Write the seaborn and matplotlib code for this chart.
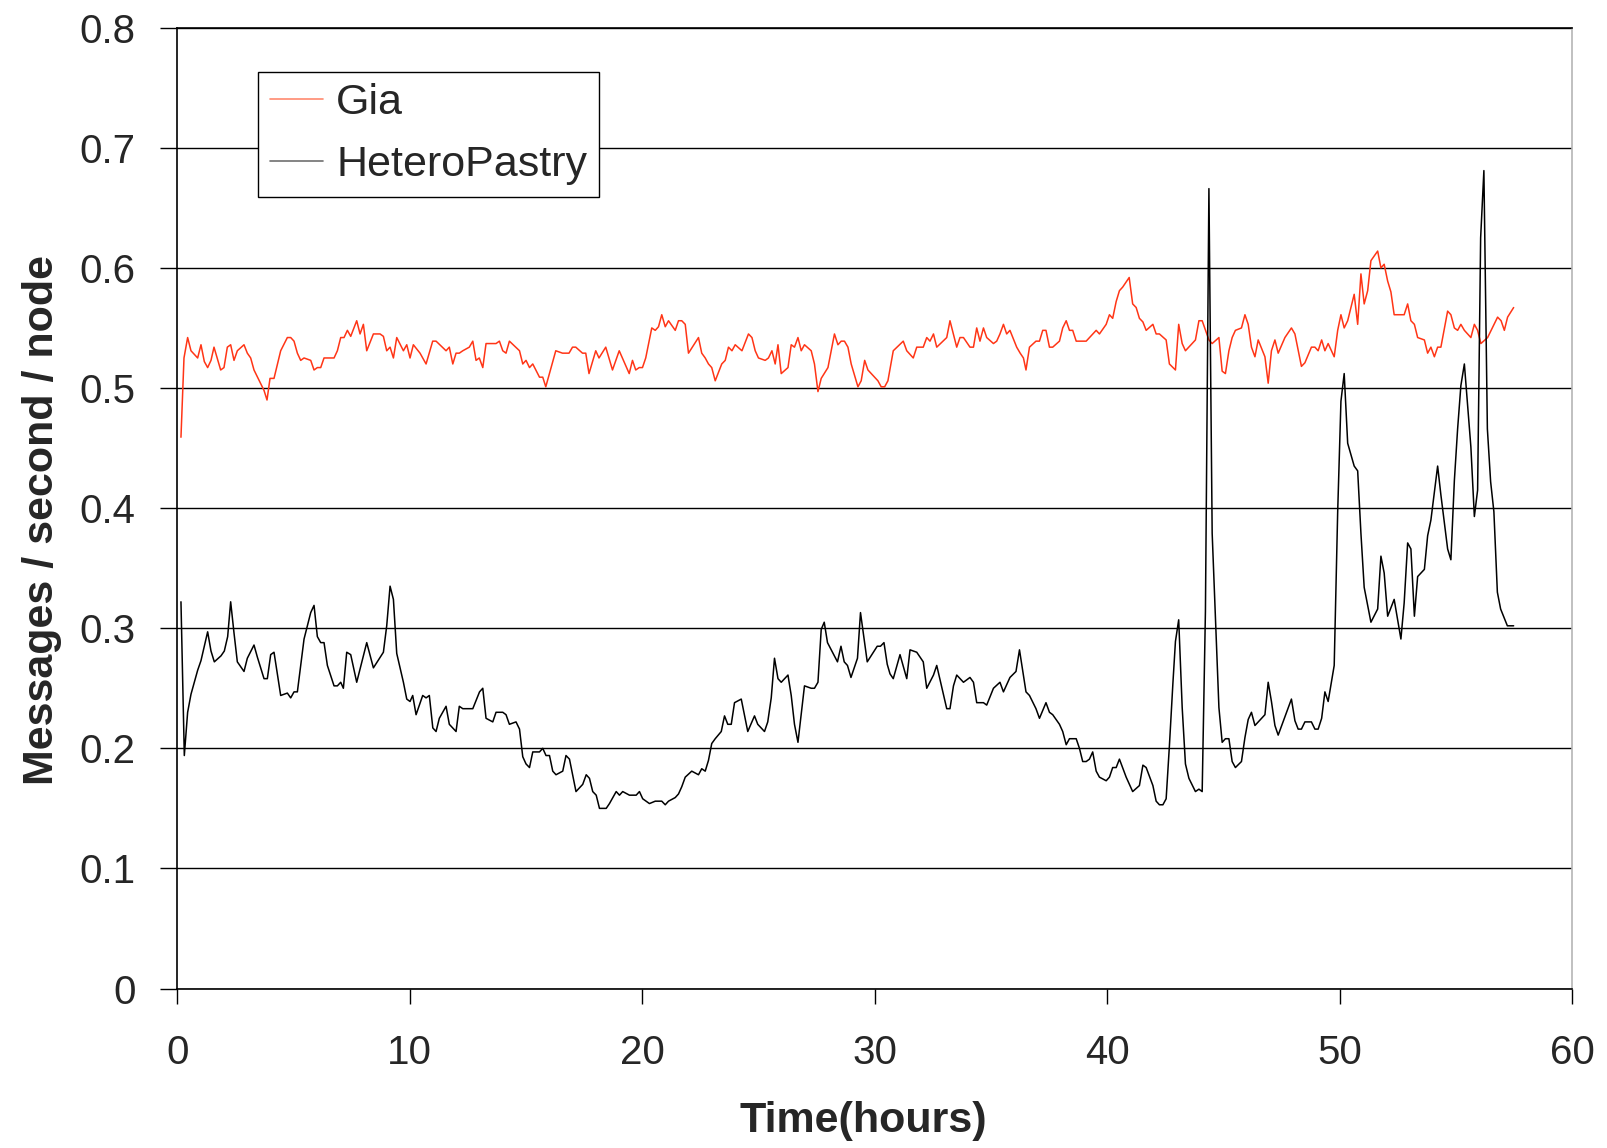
import matplotlib
matplotlib.use("Agg")
import matplotlib.pyplot as plt
import seaborn as sns
import pandas as pd

# ---------------- data ----------------
gia_hours = [
    0.155, 0.285, 0.442, 0.586, 0.873, 1.016, 1.16, 1.303, 1.447, 1.576, 1.863, 2.006, 2.15, 2.293, 2.437,
    2.58, 2.867, 3.01, 3.154, 3.297, 3.728, 3.857, 3.986, 4.158, 4.445, 4.732, 4.876, 5.019, 5.163, 5.306,
    5.45, 5.737, 5.88, 6.023, 6.167, 6.31, 6.741, 6.884, 7.028, 7.171, 7.315, 7.458, 7.716, 7.86, 8.003,
    8.147, 8.434, 8.72, 8.864, 9.007, 9.151, 9.295, 9.438, 9.725, 9.869,
    10.01, 10.153, 10.44, 10.70, 10.985, 11.13, 11.56, 11.70, 11.85, 11.99, 12.13, 12.28, 12.56, 12.71,
    12.85, 12.99, 13.14, 13.28, 13.71, 13.855, 14.0, 14.14, 14.285, 14.72, 14.86, 15.0, 15.15, 15.29,
    15.58, 15.72, 15.85, 16.28, 16.57, 16.85, 17.0, 17.14, 17.43, 17.57, 17.71, 18.0, 18.14, 18.43, 18.72,
    19.01, 19.44, 19.58, 19.72, 19.87, 20.01, 20.15,
    20.41, 20.56, 20.70, 20.84, 20.99, 21.13, 21.42, 21.56, 21.70, 21.85, 21.99, 22.42, 22.56, 22.71,
    22.85, 22.99, 23.14, 23.42, 23.57, 23.71, 23.86, 24.0, 24.29, 24.57, 24.72, 24.86, 25.0, 25.29, 25.43,
    25.58, 25.72, 25.84, 25.98, 26.27, 26.41, 26.55, 26.70, 26.84, 26.98, 27.27, 27.41, 27.56, 27.70,
    27.99, 28.27, 28.42, 28.56, 28.70, 28.85, 28.99, 29.28, 29.42, 29.57, 29.71, 30.14, 30.28, 30.43, 30.57,
    30.80, 31.23, 31.38, 31.66, 31.81, 32.09, 32.24, 32.38, 32.53, 32.67, 33.10, 33.24, 33.53, 33.67, 33.82,
    34.10, 34.25, 34.39, 34.53, 34.68, 34.82, 35.11, 35.25, 35.39, 35.54, 35.68, 35.82, 36.11, 36.26, 36.40,
    36.51, 36.66, 36.94, 37.09, 37.23, 37.37, 37.52, 37.66, 37.95, 38.09, 38.24, 38.38, 38.52, 38.67, 39.10,
    39.53, 39.67, 39.96, 40.10, 40.24, 40.39, 40.53, 40.67, 40.95,
    41.10, 41.25, 41.39, 41.54, 41.68, 41.97, 42.11, 42.25, 42.54, 42.68, 42.94, 43.08, 43.23, 43.37, 43.80,
    43.95, 44.09, 44.38, 44.52, 44.81, 44.95, 45.09, 45.24, 45.38, 45.52, 45.78, 45.93, 46.07, 46.21, 46.36,
    46.50, 46.79, 46.93, 47.07, 47.22, 47.36, 47.65, 47.93, 48.08, 48.36, 48.51, 48.79, 48.94, 49.08, 49.23,
    49.37, 49.51,
    49.77, 49.92, 50.06, 50.20, 50.35, 50.63, 50.78, 50.92, 51.06, 51.21, 51.35, 51.64, 51.78, 51.92, 52.07,
    52.21, 52.35, 52.78, 52.93, 53.07, 53.22, 53.36, 53.65, 53.79, 53.93, 54.08, 54.22, 54.36, 54.65, 54.79,
    54.94, 55.08, 55.22, 55.37, 55.65, 55.80, 55.94, 56.08, 56.37, 56.80, 56.95, 57.09, 57.23, 57.49,
]
gia_values = [
    0.459, 0.525, 0.542, 0.531, 0.525, 0.536, 0.522, 0.517, 0.523, 0.534, 0.515, 0.517, 0.534, 0.536, 0.523,
    0.531, 0.536, 0.529, 0.525, 0.515, 0.498, 0.490, 0.508, 0.508, 0.531, 0.542, 0.542, 0.539, 0.529, 0.523,
    0.525, 0.523, 0.515, 0.517, 0.517, 0.525, 0.525, 0.531, 0.542, 0.542, 0.548, 0.543, 0.556, 0.545, 0.553,
    0.531, 0.545, 0.545, 0.543, 0.531, 0.534, 0.525, 0.542, 0.531, 0.536,
    0.525, 0.536, 0.529, 0.520, 0.539, 0.539, 0.531, 0.534, 0.520, 0.529, 0.529, 0.531, 0.534, 0.539,
    0.523, 0.525, 0.517, 0.537, 0.537, 0.539, 0.531, 0.529, 0.539, 0.531, 0.520, 0.523, 0.517, 0.520,
    0.509, 0.509, 0.501, 0.531, 0.529, 0.529, 0.534, 0.534, 0.529, 0.529, 0.512, 0.531, 0.525, 0.534, 0.515,
    0.531, 0.512, 0.523, 0.515, 0.517, 0.517, 0.525,
    0.550, 0.548, 0.551, 0.561, 0.551, 0.556, 0.548, 0.556, 0.556, 0.553, 0.529, 0.542, 0.529, 0.525,
    0.520, 0.517, 0.506, 0.520, 0.523, 0.534, 0.531, 0.536, 0.531, 0.545, 0.542, 0.531, 0.525, 0.523, 0.525,
    0.531, 0.520, 0.536, 0.512, 0.517, 0.536, 0.534, 0.542, 0.531, 0.536, 0.531, 0.520, 0.497, 0.508,
    0.517, 0.545, 0.536, 0.539, 0.539, 0.534, 0.520, 0.501, 0.506, 0.523, 0.515, 0.506, 0.501, 0.501, 0.506,
    0.531, 0.539, 0.531, 0.525, 0.534, 0.534, 0.542, 0.539, 0.545, 0.534, 0.542, 0.556, 0.534, 0.542, 0.542,
    0.534, 0.534, 0.550, 0.539, 0.550, 0.542, 0.537, 0.539, 0.545, 0.553, 0.545, 0.548, 0.534, 0.529, 0.525,
    0.515, 0.534, 0.539, 0.539, 0.548, 0.548, 0.534, 0.534, 0.539, 0.550, 0.556, 0.548, 0.548, 0.539, 0.539,
    0.548, 0.545, 0.553, 0.561, 0.558, 0.572, 0.581, 0.584, 0.592,
    0.570, 0.567, 0.558, 0.555, 0.548, 0.553, 0.545, 0.545, 0.540, 0.520, 0.515, 0.553, 0.537, 0.531, 0.540,
    0.556, 0.556, 0.540, 0.537, 0.542, 0.514, 0.512, 0.531, 0.542, 0.548, 0.550, 0.561, 0.553, 0.534, 0.526,
    0.540, 0.526, 0.504, 0.531, 0.540, 0.529, 0.542, 0.550, 0.545, 0.518, 0.521, 0.534, 0.534, 0.531, 0.540,
    0.531, 0.537,
    0.526, 0.548, 0.561, 0.550, 0.556, 0.578, 0.553, 0.595, 0.570, 0.581, 0.606, 0.614, 0.600, 0.603, 0.589,
    0.580, 0.561, 0.561, 0.570, 0.556, 0.553, 0.542, 0.540, 0.529, 0.534, 0.526, 0.534, 0.534, 0.564, 0.561,
    0.550, 0.548, 0.553, 0.548, 0.542, 0.553, 0.548, 0.537, 0.542, 0.559, 0.556, 0.548, 0.559, 0.567,
]

hetero_hours = [
    0.155, 0.299, 0.442, 0.586, 0.73, 0.873, 1.016, 1.303, 1.447, 1.59, 1.877, 2.02, 2.164, 2.293, 2.437,
    2.58, 2.867, 3.01, 3.297, 3.441, 3.728, 3.871, 4.015, 4.158, 4.445, 4.732, 4.876, 5.019, 5.163, 5.45,
    5.737, 5.88, 6.023, 6.167, 6.31, 6.454, 6.741, 6.884, 7.028, 7.142, 7.286, 7.458, 7.716, 8.147, 8.434,
    8.864, 9.007, 9.151, 9.295, 9.438, 9.725, 9.869,
    10.01, 10.125, 10.27, 10.555, 10.70, 10.84, 10.99, 11.13, 11.27, 11.56, 11.70, 11.99, 12.13, 12.28,
    12.71, 13.0, 13.14, 13.28, 13.57, 13.71, 14.0, 14.14, 14.285, 14.57, 14.72, 14.86, 15.0, 15.15, 15.29,
    15.58, 15.72, 15.86, 16.01, 16.15, 16.29, 16.58, 16.72, 16.87, 17.15, 17.44, 17.59, 17.73, 17.87, 18.02,
    18.16, 18.45, 18.59, 18.88, 19.02, 19.16, 19.45, 19.74, 19.88, 20.02, 20.31,
    20.56, 20.84, 20.99, 21.13, 21.42, 21.56, 21.70, 21.85, 22.13, 22.42, 22.56, 22.71, 22.85, 22.99, 23.14,
    23.40, 23.54, 23.68, 23.83, 23.97, 24.26, 24.54, 24.83, 24.97, 25.26, 25.40, 25.55, 25.69, 25.84, 25.98,
    26.27, 26.41, 26.55, 26.70, 26.98, 27.27, 27.41, 27.56, 27.70, 27.83, 27.97, 28.40, 28.55, 28.69, 28.83,
    28.98, 29.26, 29.39, 29.68, 30.11, 30.25, 30.40, 30.54,
    30.66, 30.80, 31.09, 31.38, 31.52, 31.81, 32.09, 32.24, 32.53, 32.67, 33.10, 33.24, 33.39, 33.53, 33.82,
    34.10, 34.25, 34.39, 34.68, 34.82, 35.11, 35.39, 35.54, 35.82, 36.08, 36.23, 36.51, 36.66, 36.94, 37.09,
    37.37, 37.52, 37.66, 37.95, 38.09, 38.24, 38.38, 38.67, 38.81, 38.95, 39.10, 39.24, 39.38, 39.53, 39.67,
    39.96, 40.10, 40.24, 40.39, 40.53, 40.82,
    41.10, 41.39, 41.54, 41.68, 41.97, 42.11, 42.25, 42.40, 42.54, 42.68, 42.83, 42.94, 43.08, 43.23, 43.37,
    43.52, 43.80, 43.95, 44.09, 44.23, 44.38, 44.52, 44.81, 44.95, 45.09, 45.24, 45.38, 45.52, 45.78, 45.93,
    46.07, 46.21, 46.36, 46.79, 46.93, 47.07, 47.22, 47.36, 47.93, 48.08, 48.22, 48.36, 48.51, 48.79, 48.94,
    49.08, 49.23, 49.37, 49.51,
    49.77, 49.92, 50.06, 50.20, 50.35, 50.63, 50.78, 50.92, 51.06, 51.35, 51.64, 51.78, 51.92, 52.07, 52.35,
    52.64, 52.78, 52.93, 53.07, 53.22, 53.36, 53.65, 53.79, 53.93, 54.22, 54.36, 54.65, 54.79, 54.94, 55.08,
    55.22, 55.37, 55.65, 55.80, 55.94, 56.07, 56.21, 56.36, 56.50, 56.64, 56.79, 56.93, 57.22, 57.49,
]
hetero_values = [
    0.322, 0.194, 0.230, 0.245, 0.255, 0.265, 0.273, 0.297, 0.281, 0.272, 0.277, 0.281, 0.293, 0.322, 0.296,
    0.272, 0.264, 0.275, 0.286, 0.276, 0.258, 0.258, 0.278, 0.280, 0.244, 0.246, 0.242, 0.247, 0.247, 0.291,
    0.313, 0.319, 0.293, 0.288, 0.288, 0.269, 0.252, 0.252, 0.255, 0.250, 0.280, 0.278, 0.255, 0.288, 0.267,
    0.280, 0.302, 0.335, 0.324, 0.279, 0.255, 0.241,
    0.239, 0.244, 0.228, 0.244, 0.242, 0.244, 0.217, 0.214, 0.225, 0.235, 0.220, 0.214, 0.235, 0.233,
    0.233, 0.247, 0.250, 0.225, 0.222, 0.230, 0.230, 0.228, 0.220, 0.222, 0.216, 0.193, 0.187, 0.184, 0.197,
    0.197, 0.200, 0.194, 0.194, 0.181, 0.178, 0.181, 0.194, 0.191, 0.164, 0.170, 0.178, 0.175, 0.164, 0.161,
    0.150, 0.150, 0.154, 0.164, 0.161, 0.164, 0.161, 0.161, 0.164, 0.158, 0.154,
    0.156, 0.156, 0.153, 0.156, 0.159, 0.162, 0.168, 0.176, 0.181, 0.178, 0.183, 0.181, 0.190, 0.204, 0.208,
    0.214, 0.227, 0.220, 0.220, 0.238, 0.241, 0.214, 0.227, 0.220, 0.214, 0.222, 0.242, 0.275, 0.258, 0.255,
    0.261, 0.244, 0.220, 0.205, 0.252, 0.250, 0.250, 0.255, 0.299, 0.305, 0.288, 0.272, 0.285, 0.272, 0.269,
    0.259, 0.275, 0.313, 0.272, 0.285, 0.285, 0.288, 0.270,
    0.262, 0.258, 0.278, 0.258, 0.282, 0.280, 0.272, 0.250, 0.261, 0.269, 0.233, 0.233, 0.252, 0.261, 0.255,
    0.259, 0.255, 0.238, 0.238, 0.236, 0.250, 0.255, 0.247, 0.259, 0.264, 0.282, 0.247, 0.244, 0.233, 0.225,
    0.238, 0.230, 0.228, 0.220, 0.214, 0.203, 0.208, 0.208, 0.200, 0.189, 0.189, 0.191, 0.197, 0.181, 0.176,
    0.173, 0.176, 0.184, 0.184, 0.191, 0.176,
    0.164, 0.169, 0.186, 0.184, 0.169, 0.156, 0.153, 0.153, 0.158, 0.202, 0.254, 0.289, 0.307, 0.234, 0.187,
    0.175, 0.164, 0.166, 0.164, 0.314, 0.666, 0.379, 0.234, 0.205, 0.208, 0.208, 0.189, 0.184, 0.189, 0.209,
    0.224, 0.230, 0.219, 0.228, 0.255, 0.239, 0.219, 0.211, 0.241, 0.223, 0.216, 0.216, 0.222, 0.222, 0.216,
    0.216, 0.225, 0.247, 0.239,
    0.269, 0.397, 0.489, 0.512, 0.454, 0.435, 0.431, 0.379, 0.334, 0.305, 0.316, 0.360, 0.346, 0.310, 0.324,
    0.291, 0.321, 0.371, 0.366, 0.310, 0.343, 0.349, 0.377, 0.390, 0.435, 0.411, 0.366, 0.357, 0.423, 0.466,
    0.502, 0.520, 0.451, 0.393, 0.415, 0.625, 0.681, 0.466, 0.422, 0.397, 0.330, 0.316, 0.302, 0.302,
]

series_names = ["Gia", "HeteroPastry"]
x_ticks = [0, 10, 20, 30, 40, 50, 60]
y_ticks = [0, 0.1, 0.2, 0.3, 0.4, 0.5, 0.6, 0.7, 0.8]
y_tick_labels = ["0", "0.1", "0.2", "0.3", "0.4", "0.5", "0.6", "0.7", "0.8"]
x_label = "Time(hours)"
y_label = "Messages / second / node"

# ---------------- style ----------------
sns.set_style("white")
plt.rcParams["font.family"] = ["Liberation Sans", "DejaVu Sans"]

fig = plt.figure(figsize=(16.08, 11.48), dpi=100)
ax = fig.add_axes([0.1103, 0.1389, 0.8673, 0.8370])

gia_df = pd.DataFrame({"hours": gia_hours, "value": gia_values})
het_df = pd.DataFrame({"hours": hetero_hours, "value": hetero_values})

sns.lineplot(data=gia_df, x="hours", y="value", ax=ax, color="#FF3516",
             linewidth=1.1, estimator=None, sort=False, label=series_names[0])
sns.lineplot(data=het_df, x="hours", y="value", ax=ax, color="#000000",
             linewidth=1.1, estimator=None, sort=False, label=series_names[1])

ax.set_xlim(0, 60)
ax.set_ylim(0, 0.8)
ax.set_xticks(x_ticks)
ax.set_xticklabels([str(t) for t in x_ticks])
ax.set_yticks(y_ticks)
ax.set_yticklabels(y_tick_labels)

ax.yaxis.grid(True, color="black", linewidth=1.0)
ax.xaxis.grid(False)
ax.set_axisbelow(True)

for side in ["left", "top", "bottom"]:
    ax.spines[side].set_color("black")
    ax.spines[side].set_linewidth(1.2)
ax.spines["right"].set_color("#b5b5b5")
ax.spines["right"].set_linewidth(1.2)

ax.tick_params(axis="x", direction="out", length=11, width=1, color="black",
               labelsize=29, pad=22, bottom=True)
ax.tick_params(axis="y", direction="out", length=12, width=1, color="black",
               labelsize=29, pad=18, left=True)

ax.set_xlabel(x_label, fontsize=31, fontweight="bold", va="center")
ax.set_ylabel(y_label, fontsize=31, fontweight="bold")
ax.xaxis.set_label_coords(0.492, -0.138)
ax.yaxis.set_label_coords(-0.0825, 0.488)

leg = ax.legend(loc="upper left", bbox_to_anchor=(0.0578, 0.954), borderaxespad=0,
                fontsize=31, frameon=True, fancybox=False, handlelength=1.25,
                handletextpad=0.3, labelspacing=0.5, borderpad=0.27)
leg.get_frame().set_edgecolor("black")
leg.get_frame().set_linewidth(1.0)
leg.get_frame().set_alpha(1.0)
legend_line_colors = ["#FF8a70", "#707070"]
for line, c in zip(leg.get_lines(), legend_line_colors):
    line.set_linewidth(1.2)
    line.set_color(c)

fig.savefig("out.png", dpi=100)
